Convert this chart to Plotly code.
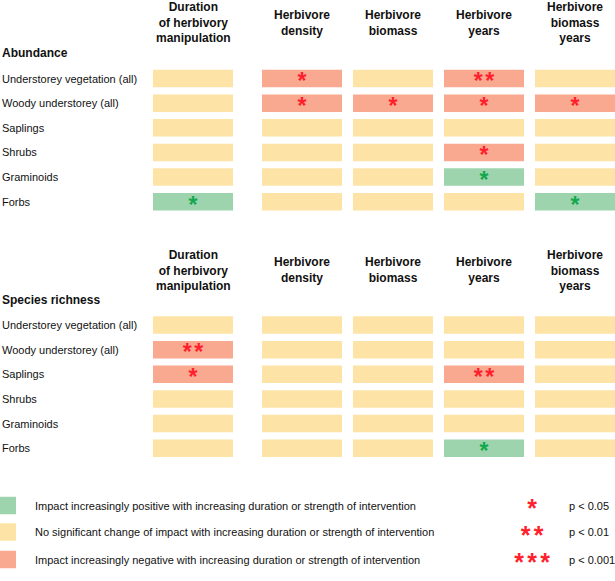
import plotly.graph_objects as go

# ---------------- data ----------------
columns = ["Duration<br>of herbivory<br>manipulation", "Herbivore<br>density",
           "Herbivore<br>biomass", "Herbivore<br>years", "Herbivore<br>biomass<br>years"]
row_labels = ["Understorey vegetation (all)", "Woody understorey (all)", "Saplings",
              "Shrubs", "Graminoids", "Forbs"]
sections = ["Abundance", "Species richness"]

# effect: +1 positive, 0 no change, -1 negative
abundance_effect = [
    [0, -1, 0, -1, 0],
    [0, -1, -1, -1, -1],
    [0, 0, 0, 0, 0],
    [0, 0, 0, -1, 0],
    [0, 0, 0, 1, 0],
    [1, 0, 0, 0, 1],
]
abundance_stars = [
    [0, 1, 0, 2, 0],
    [0, 1, 1, 1, 1],
    [0, 0, 0, 0, 0],
    [0, 0, 0, 1, 0],
    [0, 0, 0, 1, 0],
    [1, 0, 0, 0, 1],
]
richness_effect = [
    [0, 0, 0, 0, 0],
    [-1, 0, 0, 0, 0],
    [-1, 0, 0, -1, 0],
    [0, 0, 0, 0, 0],
    [0, 0, 0, 0, 0],
    [0, 0, 0, 1, 0],
]
richness_stars = [
    [0, 0, 0, 0, 0],
    [2, 0, 0, 0, 0],
    [1, 0, 0, 2, 0],
    [0, 0, 0, 0, 0],
    [0, 0, 0, 0, 0],
    [0, 0, 0, 1, 0],
]
legend_effects = [1, 0, -1]
legend_texts = ["Impact increasingly positive with increasing duration or strength of intervention",
                "No significant change of impact with increasing duration or strength of intervention",
                "Impact increasingly negative with increasing duration or strength of intervention"]
legend_stars = [1, 2, 3]
legend_p = ["p < 0.05", "p < 0.01", "p < 0.001"]

# ---------------- style / layout ----------------
W, H = 615, 581
FILL = {1: "#9dd4ae", 0: "#fee3a6", -1: "#f8a98f"}
STAR = {1: "#14a84e", 0: "#ff1f2d", -1: "#ff1f2d"}
FONT = "Liberation Sans, Arial, sans-serif"
COL_W = 80
CELL_H = 17.5
ROW_PITCH = 24.65
SEC_TOP = [78.5, 325.0]
HEAD_CY = [22.5, 270.0]
TITLE_Y = [53, 300]
STAR_DY = 5
STAR_SP = 11.5


def col_left(i):
    return 153 if i == 0 else 262 + 91 * (i - 1)


fig = go.Figure()

bars = {e: ([], [], []) for e in (1, 0, -1)}
stars = {c: ([], []) for c in STAR}
ann = []


def text(x, y, s, size, anchor="left"):
    ann.append(dict(x=x, y=y, text=s, xanchor=anchor, yanchor="middle", showarrow=False,
                    font=dict(size=size, color="#111", family=FONT)))


for s, (eff, stz) in enumerate([(abundance_effect, abundance_stars), (richness_effect, richness_stars)]):
    for r, lab in enumerate(row_labels):
        cy = SEC_TOP[s] + r * ROW_PITCH
        text(0, cy, lab, 11)
        for c in range(len(columns)):
            e = eff[r][c]
            bars[e][0].append(cy)
            bars[e][1].append(COL_W)
            bars[e][2].append(col_left(c))
            n = stz[r][c]
            cx = col_left(c) + COL_W / 2
            for k in range(n):
                stars[e][0].append(cx + (k - (n - 1) / 2) * STAR_SP)
                stars[e][1].append(cy + STAR_DY)
    for c, name in enumerate(columns):
        text(col_left(c) + COL_W / 2, HEAD_CY[s],
             "<b>" + name.replace("<br>", "</b><br><b>") + "</b>", 12, "center")
    text(0, TITLE_Y[s], "<b>" + sections[s] + "</b>", 12)

# legend
LEG_Y = [505.5, 532, 559.5]
leg_stars = ([], [])
for i, e in enumerate(legend_effects):
    bars[e][0].append(LEG_Y[i])
    bars[e][1].append(16)
    bars[e][2].append(0)
    text(33, LEG_Y[i], legend_texts[i], 11)
    text(567, LEG_Y[i], legend_p[i], 11)
    n = legend_stars[i]
    for k in range(n):
        leg_stars[0].append(532 + (k - (n - 1) / 2) * 13)
        leg_stars[1].append(LEG_Y[i] + STAR_DY + 0.5)

for e in (1, 0, -1):
    ys, xs, bs = bars[e]
    fig.add_trace(go.Bar(y=ys, x=xs, base=bs, orientation="h", width=CELL_H,
                         marker=dict(color=FILL[e], line=dict(width=0)),
                         hoverinfo="skip", showlegend=False))

for e in (1, 0, -1):
    xs, ys = stars[e]
    if xs:
        fig.add_trace(go.Scatter(x=xs, y=ys, mode="text", text=["*"] * len(xs),
                                 textposition="middle center", cliponaxis=False,
                                 textfont=dict(size=23, color=STAR[e], family="Liberation Sans",
                                               weight="bold"),
                                 hoverinfo="skip", showlegend=False))
fig.add_trace(go.Scatter(x=leg_stars[0], y=leg_stars[1], mode="text", text=["*"] * len(leg_stars[0]),
                         textposition="middle center", cliponaxis=False,
                         textfont=dict(size=25, color=STAR[-1], family="Liberation Sans",
                                       weight="bold"),
                         hoverinfo="skip", showlegend=False))

fig.update_layout(
    width=W, height=H, margin=dict(l=0, r=0, t=0, b=0),
    paper_bgcolor="white", plot_bgcolor="white",
    xaxis=dict(range=[0, W], visible=False, fixedrange=True),
    yaxis=dict(range=[H, 0], visible=False, fixedrange=True),
    annotations=ann, barmode="overlay", showlegend=False,
)
fig.write_html("out.html", config={"displayModeBar": False},
               post_script="document.body.style.margin='0';document.body.style.padding='0';")
